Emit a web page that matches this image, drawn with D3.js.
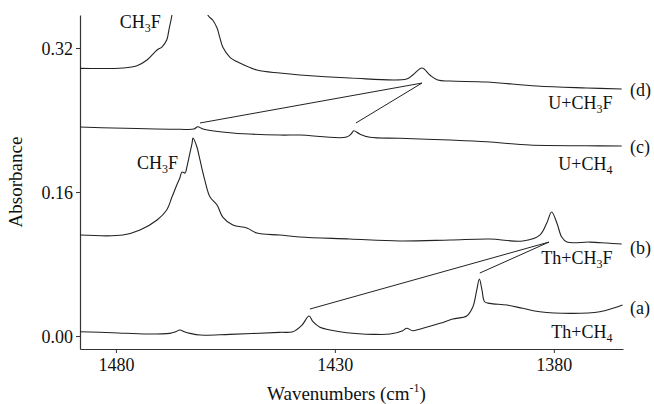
<!DOCTYPE html>
<html>
<head>
<meta charset="utf-8">
<script src="https://cdn.jsdelivr.net/npm/d3@7"></script>
<style>
  html, body { margin: 0; padding: 0; background: #fff; }
  svg { display: block; }
  text { font-family: "Liberation Serif", "Times New Roman", serif; fill: #111; }
</style>
</head>
<body>
<svg id="chart" width="654" height="404"></svg>
<script>
// ---- Data (wavenumber cm^-1, absorbance) ----
const wavenumberTicks = [1480, 1430, 1380];
const absorbanceTicks = [0.00, 0.16, 0.32];

// (a) Th + CH4
const traceA = [
  [1488.2,0.0048],[1480.7,0.0037],[1472.9,0.0022],[1467.7,0.0030],[1466.5,0.0044],
  [1465.4,0.0067],[1464.2,0.0044],[1463.1,0.0030],[1460.8,0.0011],[1454.0,0.0019],
  [1442.6,0.0041],[1439.6,0.0048],[1437.5,0.0122],[1435.9,0.0222],[1435.0,0.0159],
  [1433.4,0.0097],[1431.1,0.0067],[1427.3,0.0037],[1421.3,0.0019],[1417.4,0.0022],
  [1414.5,0.0059],[1413.6,0.0086],[1412.2,0.0059],[1409.9,0.0086],[1406.0,0.0141],
  [1403.1,0.0189],[1399.9,0.0222],[1398.5,0.0322],[1397.6,0.0511],[1397.0,0.0633],
  [1396.4,0.0511],[1395.8,0.0381],[1394.6,0.0363],[1390.7,0.0344],[1387.1,0.0308],
  [1383.2,0.0270],[1375.7,0.0252],[1369.5,0.0270],[1366.5,0.0308],[1364.3,0.0344]
];

// (b) Th + CH3F
const traceB = [
  [1488.2,0.1122],[1478.4,0.1122],[1474.5,0.1178],[1470.6,0.1289],[1468.4,0.1400],
  [1467.2,0.1544],[1466.1,0.1678],[1465.4,0.1756],[1464.9,0.1822],[1464.2,0.1811],
  [1463.8,0.1878],[1463.1,0.2033],[1462.6,0.2144],[1462.4,0.2200],[1461.5,0.2100],
  [1460.8,0.1956],[1459.7,0.1733],[1458.5,0.1544],[1456.9,0.1456],[1455.6,0.1322],
  [1453.3,0.1233],[1450.1,0.1200],[1447.8,0.1144],[1442.6,0.1122],[1438.0,0.1100],
  [1426.6,0.1078],[1415.2,0.1056],[1403.7,0.1067],[1394.6,0.1078],[1387.1,0.1056],
  [1383.2,0.1122],[1381.6,0.1256],[1380.5,0.1378],[1379.3,0.1256],[1378.2,0.1100],
  [1377.0,0.1044],[1371.8,0.1044],[1367.9,0.1033],[1364.5,0.1022]
];

// (c) U + CH4
const traceC = [
  [1488.2,0.2322],[1480.7,0.2311],[1465.4,0.2297],[1462.2,0.2300],[1461.3,0.2326],
  [1460.1,0.2300],[1453.3,0.2256],[1442.6,0.2233],[1438.0,0.2233],[1427.3,0.2211],
  [1426.1,0.2256],[1425.7,0.2281],[1424.3,0.2244],[1422.0,0.2208],[1415.2,0.2197],
  [1403.7,0.2178],[1395.3,0.2159],[1385.5,0.2122],[1372.5,0.2114],[1364.5,0.2111]
];

// (d) U + CH3F
const traceD = [
  [1488.2,0.2974],[1478.4,0.2978],[1475.2,0.3003],[1472.9,0.3067],[1470.6,0.3178],
  [1469.5,0.3211],[1468.4,0.3289],[1467.9,0.3400],[1467.2,0.3567],[1465.5,0.4200],
  [1463.0,0.4600],[1460.5,0.4200],[1459.0,0.3567],[1457.9,0.3511],[1456.9,0.3422],
  [1456.3,0.3322],[1455.6,0.3211],[1454.0,0.3100],[1451.7,0.3033],[1447.8,0.2956],
  [1442.6,0.2922],[1438.0,0.2900],[1426.6,0.2867],[1413.6,0.2856],[1412.2,0.2900],
  [1410.1,0.2978],[1408.3,0.2900],[1406.5,0.2844],[1403.7,0.2833],[1395.3,0.2822],
  [1383.9,0.2778],[1372.5,0.2756],[1364.5,0.2744]
];

// Connector lines (wavenumber, absorbance) pairs
const connectorsU = [
  [[1460.8,0.2367],[1410.1,0.2811]],
  [[1425.2,0.2367],[1410.1,0.2811]]
];
const connectorsTh = [
  [[1435.7,0.0300],[1381.1,0.1044]],
  [[1396.9,0.0700],[1381.1,0.1044]]
];

// Labels
const traceLetters = ["(a)", "(b)", "(c)", "(d)"];
const sampleLabels = [
  [["Th+CH",0],["4",1]],
  [["Th+CH",0],["3",1],["F",0]],
  [["U+CH",0],["4",1]],
  [["U+CH",0],["3",1],["F",0]]
];
const ch3fLabel = [["CH",0],["3",1],["F",0]];

// ---- Layout ----
const margin = {left: 80, top: 15, right: 31, bottom: 55};
const W = 654, H = 404;
const iw = W - margin.left - margin.right;   // 543
const ih = H - margin.top - margin.bottom;   // 334

const svg = d3.select("#chart");
const g = svg.append("g").attr("transform", `translate(${margin.left},${margin.top})`);

const x = d3.scaleLinear().domain([1488.2, 1364.2]).range([0, iw]);
const y = d3.scaleLinear().domain([-0.0144, 0.3567]).range([ih, 0]);

svg.append("defs").append("clipPath").attr("id", "plotclip")
  .append("rect").attr("x", 0).attr("y", 0).attr("width", iw).attr("height", ih);

// Axes
const xAxis = d3.axisBottom(x).tickValues(wavenumberTicks).tickFormat(d3.format("d"))
  .tickSizeInner(4).tickSizeOuter(0).tickPadding(5);
const yAxis = d3.axisLeft(y).tickValues(absorbanceTicks).tickFormat(d3.format(".2f"))
  .tickSizeInner(4).tickSizeOuter(0).tickPadding(3);

const gx = g.append("g").attr("transform", `translate(0,${ih})`).call(xAxis);
const gy = g.append("g").call(yAxis);
[gx, gy].forEach(a => {
  a.select(".domain").attr("stroke", "#333").attr("stroke-width", 1.2);
  a.selectAll(".tick line").attr("stroke", "#333");
  a.selectAll(".tick text").attr("font-size", 18)
    .attr("font-family", "'Liberation Serif', 'Times New Roman', serif").attr("fill", "#111");
});
gy.selectAll(".tick text").attr("dy", "0.35em");

// Traces
const line = d3.line().x(d => x(d[0])).y(d => y(d[1])).curve(d3.curveCatmullRom.alpha(0.5));
const plot = g.append("g").attr("clip-path", "url(#plotclip)");
[traceA, traceB, traceC, traceD].forEach(tr => {
  plot.append("path").datum(tr).attr("d", line)
    .attr("fill", "none").attr("stroke", "#222").attr("stroke-width", 1.1)
    .attr("stroke-linejoin", "round");
});

// Connectors
[...connectorsU, ...connectorsTh].forEach(seg => {
  g.append("line")
    .attr("x1", x(seg[0][0])).attr("y1", y(seg[0][1]))
    .attr("x2", x(seg[1][0])).attr("y2", y(seg[1][1]))
    .attr("stroke", "#222").attr("stroke-width", 1);
});

// Helper for sub-scripted text
function richText(parent, parts, px, py, anchor) {
  const t = parent.append("text").attr("x", px).attr("y", py)
    .attr("font-size", 18).attr("text-anchor", anchor || "start");
  parts.forEach(([s, sub], i) => {
    const prev = i > 0 ? parts[i-1][1] : 0;
    const ts = t.append("tspan").text(s);
    if (sub) ts.attr("font-size", 12);
    ts.attr("dy", sub && !prev ? 4 : (!sub && prev ? -4 : 0));
  });
  return t;
}

// Label positions (data coords at right end / peaks)
const rightW = 1366.6;     // end anchor of sample labels
const letterW = 1362.6;    // start of (a)-(d)
const sampleY = [-0.0020, 0.0800, 0.1844, 0.2522];
const letterY = [0.0244, 0.0911, 0.2033, 0.2667];

sampleLabels.forEach((parts, i) => {
  richText(g, parts, x(rightW), y(sampleY[i]), "end");
});
traceLetters.forEach((s, i) => {
  g.append("text").attr("x", x(letterW)).attr("y", y(letterY[i]))
    .attr("font-size", 18).text(s);
});
richText(g, ch3fLabel, x(1479.1), y(0.3422), "start");
richText(g, ch3fLabel, x(1475.2), y(0.1856), "start");

// Axis titles
g.append("text").attr("x", iw / 2 - 5).attr("y", ih + 51)
  .attr("text-anchor", "middle").attr("font-size", 19)
  .call(t => {
    t.append("tspan").text("Wavenumbers (cm");
    t.append("tspan").text("-1").attr("font-size", 12).attr("dy", -8);
    t.append("tspan").text(")").attr("dy", 8);
  });
g.append("text")
  .attr("transform", `translate(${-58},${ih / 2}) rotate(-90)`)
  .attr("text-anchor", "middle").attr("font-size", 19).text("Absorbance");
</script>
</body>
</html>
